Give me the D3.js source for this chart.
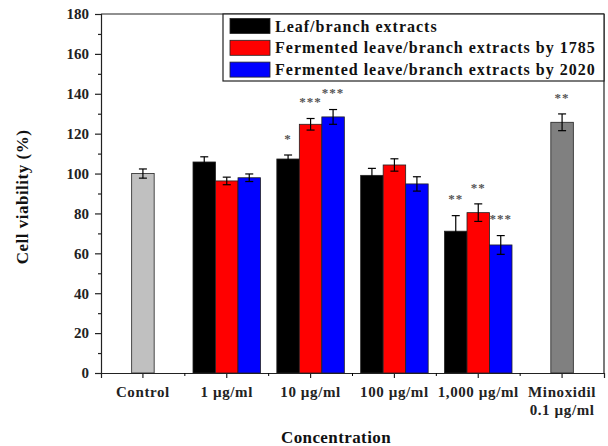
<!DOCTYPE html>
<html>
<head>
<meta charset="utf-8">
<script src="https://cdn.jsdelivr.net/npm/d3@7/dist/d3.min.js"></script>
<style>
  body { margin: 0; background: #fff; }
  svg { display: block; }
  text { font-family: "Liberation Serif", "Times New Roman", serif; font-weight: bold; }
</style>
</head>
<body>
<div id="chart"></div>
<script>
// categories on the x axis
var categories = ["Control", "1 \u00b5g/ml", "10 \u00b5g/ml", "100 \u00b5g/ml", "1,000 \u00b5g/ml", "Minoxidil\n0.1 \u00b5g/ml"];
var groupCats = ["1 \u00b5g/ml", "10 \u00b5g/ml", "100 \u00b5g/ml", "1,000 \u00b5g/ml"];

// grouped series (values and SD)
var seriesNames = ["Leaf/branch extracts", "Fermented leave/branch extracts by 1785", "Fermented leave/branch extracts by 2020"];
var seriesColors = ["#000000", "#ff0000", "#0000ff"];
var leafValues = [105.8, 107.3, 99.1, 71.1];
var leafErr = [2.6, 2.0, 3.5, 7.8];
var f1785Values = [96.3, 124.7, 104.3, 80.4];
var f1785Err = [1.9, 2.9, 3.1, 4.4];
var f2020Values = [97.9, 128.4, 94.8, 64.2];
var f2020Err = [1.9, 3.7, 3.6, 4.7];
var leafSig = ["", "*", "", "**"];
var f1785Sig = ["", "***", "", "**"];
var f2020Sig = ["", "***", "", "***"];

// single bars
var singleCats = ["Control", "Minoxidil\n0.1 \u00b5g/ml"];
var singleValues = [100, 125.7];
var singleErr = [2.3, 4.2];
var singleColors = ["#c0c0c0", "#808080"];
var singleSig = ["", "**"];

var yTicks = [0, 20, 40, 60, 80, 100, 120, 140, 160, 180];

var width = 608, height = 446;
var margin = {top: 14, right: 4, bottom: 73, left: 101};

var svg = d3.select("#chart").append("svg")
    .attr("width", width)
    .attr("height", height);

var x0 = d3.scaleBand()
    .domain(categories)
    .range([margin.left, width - margin.right])
    .padding(0);

var barW = 22.5;
var x1 = d3.scaleBand()
    .domain(seriesNames)
    .range([-barW * 1.5, barW * 1.5])
    .padding(0);

var y = d3.scaleLinear()
    .domain([0, 180])
    .range([height - margin.bottom, margin.top]);

var cx = function (c) { return x0(c) + x0.bandwidth() / 2; };

// build rows for grouped bars
var allValues = [leafValues, f1785Values, f2020Values];
var allErr = [leafErr, f1785Err, f2020Err];
var allSig = [leafSig, f1785Sig, f2020Sig];
var rows = [];
groupCats.forEach(function (c, i) {
    seriesNames.forEach(function (s, j) {
        rows.push({
            x: cx(c) + x1(s),
            w: x1.bandwidth(),
            v: allValues[j][i],
            e: allErr[j][i],
            sig: allSig[j][i],
            color: seriesColors[j]
        });
    });
});
singleCats.forEach(function (c, i) {
    rows.push({
        x: cx(c) - barW / 2,
        w: barW,
        v: singleValues[i],
        e: singleErr[i],
        sig: singleSig[i],
        color: singleColors[i]
    });
});

// bars
svg.append("g").selectAll("rect")
    .data(rows)
    .enter()
    .append("rect")
    .attr("x", function (d) { return d.x; })
    .attr("y", function (d) { return y(d.v); })
    .attr("width", function (d) { return d.w; })
    .attr("height", function (d) { return y(0) - y(d.v); })
    .attr("fill", function (d) { return d.color; })
    .attr("stroke", "#222")
    .attr("stroke-width", 0.8);

// error bars
var eg = svg.append("g").attr("stroke", "#000").attr("stroke-width", 1.2);
rows.forEach(function (d) {
    var mx = d.x + d.w / 2;
    eg.append("line").attr("x1", mx).attr("x2", mx).attr("y1", y(d.v + d.e)).attr("y2", y(d.v - d.e));
    eg.append("line").attr("x1", mx - 4).attr("x2", mx + 4).attr("y1", y(d.v + d.e)).attr("y2", y(d.v + d.e));
    eg.append("line").attr("x1", mx - 4).attr("x2", mx + 4).attr("y1", y(d.v - d.e)).attr("y2", y(d.v - d.e));
});

// significance stars
svg.append("g").selectAll("text")
    .data(rows.filter(function (d) { return d.sig; }))
    .enter()
    .append("text")
    .attr("x", function (d) { return d.x + d.w / 2; })
    .attr("y", function (d) { return y(d.v + d.e + 10); })
    .attr("dy", "0.6em")
    .attr("text-anchor", "middle")
    .attr("font-size", 13)
    .attr("letter-spacing", 1)
    .attr("fill", "#555")
    .text(function (d) { return d.sig; });

// y axis
var yAxis = svg.append("g")
    .attr("transform", "translate(" + margin.left + ",0)")
    .call(d3.axisLeft(y).tickValues(yTicks).tickSize(6).tickPadding(6));
svg.append("g")
    .attr("transform", "translate(" + margin.left + ",0)")
    .call(d3.axisLeft(y).tickValues(d3.range(10, 180, 20)).tickSize(3).tickFormat(""))
    .select(".domain").remove();
yAxis.selectAll("text").attr("font-size", 15).attr("font-family", null).attr("fill", "#222");

// x axis
var xAxis = svg.append("g")
    .attr("transform", "translate(0," + y(0) + ")")
    .call(d3.axisBottom(x0).tickSize(5).tickFormat(""));
svg.append("g").selectAll("line")
    .data(categories.slice(0, -1))
    .enter()
    .append("line")
    .attr("x1", function (c) { return x0(c) + x0.bandwidth(); })
    .attr("x2", function (c) { return x0(c) + x0.bandwidth(); })
    .attr("y1", y(0))
    .attr("y2", y(0) + 3)
    .attr("stroke", "#000");

svg.selectAll(".domain, .tick line").attr("stroke", "#222").attr("stroke-width", 1.2);

var xl = svg.append("g").selectAll("text")
    .data(categories)
    .enter()
    .append("text")
    .attr("x", cx)
    .attr("y", y(0) + 24)
    .attr("text-anchor", "middle")
    .attr("font-size", 15)
    .attr("letter-spacing", 0.6)
    .attr("fill", "#222");
xl.each(function (c) {
    var t = d3.select(this);
    c.split("\n").forEach(function (part, i) {
        t.append("tspan").attr("x", cx(c)).attr("dy", i === 0 ? 0 : 18).text(part);
    });
});

// frame top and right
svg.append("line")
    .attr("x1", margin.left).attr("x2", width - margin.right)
    .attr("y1", margin.top).attr("y2", margin.top)
    .attr("stroke", "#222").attr("stroke-width", 1.2);
svg.append("line")
    .attr("x1", width - margin.right).attr("x2", width - margin.right)
    .attr("y1", margin.top).attr("y2", y(0))
    .attr("stroke", "#222").attr("stroke-width", 1.2);

// axis titles
svg.append("text")
    .attr("x", 336)
    .attr("y", 443)
    .attr("text-anchor", "middle")
    .attr("font-size", 17)
    .attr("letter-spacing", 0.4)
    .attr("fill", "#111")
    .text("Concentration");
svg.append("text")
    .attr("transform", "translate(28,197) rotate(-90)")
    .attr("text-anchor", "middle")
    .attr("font-size", 17)
    .attr("letter-spacing", 0.5)
    .attr("fill", "#111")
    .text("Cell viability (%)");

// legend
var legend = svg.append("g");
legend.append("rect")
    .attr("x", 223).attr("y", margin.top)
    .attr("width", width - margin.right - 223)
    .attr("height", 67)
    .attr("fill", "#fff")
    .attr("stroke", "#222")
    .attr("stroke-width", 1.2);
var li = legend.selectAll("g.item")
    .data(seriesNames)
    .enter()
    .append("g")
    .attr("class", "item")
    .attr("transform", function (d, i) { return "translate(230," + (18.5 + i * 21.8) + ")"; });
li.append("rect")
    .attr("width", 40).attr("height", 15)
    .attr("fill", function (d, i) { return seriesColors[i]; })
    .attr("stroke", "#222")
    .attr("stroke-width", 0.8);
li.append("text")
    .attr("x", 45)
    .attr("y", 13)
    .attr("font-size", 16)
    .attr("letter-spacing", 1)
    .attr("fill", "#111")
    .text(function (d) { return d; });
</script>
</body>
</html>
